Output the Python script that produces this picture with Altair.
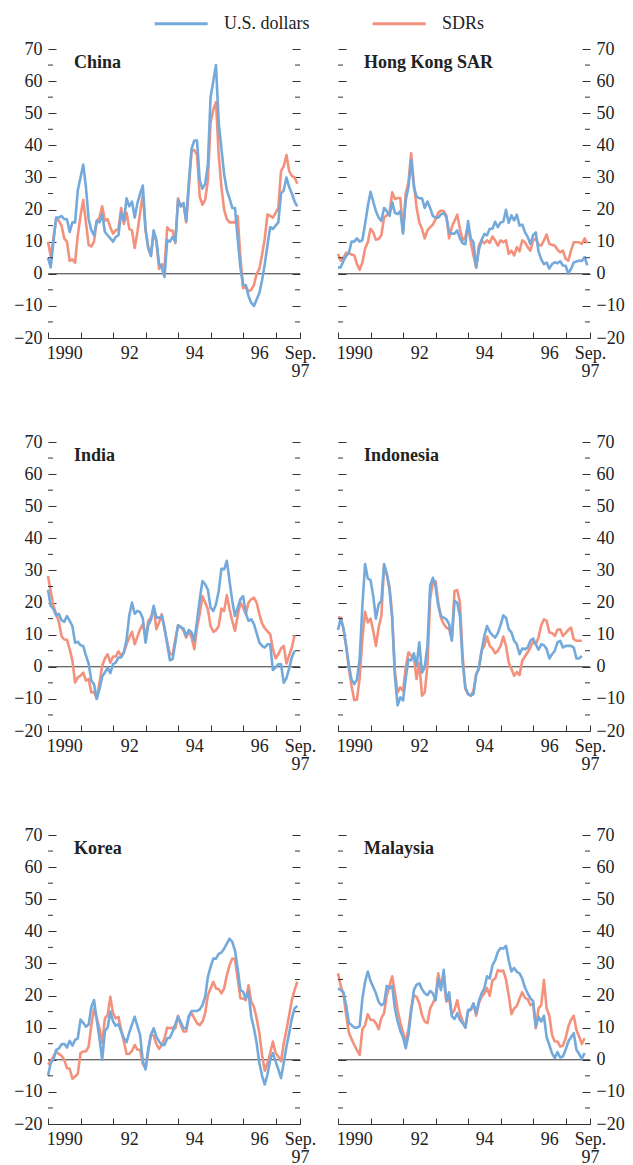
import altair as alt
import pandas as pd

# ---------------- data ----------------
START_YEAR = 1990
END_YEAR = 1997.75
SERIES = ["U.S. dollars", "SDRs"]
COLORS = ["#74a9db", "#f4917c"]
PANELS = ["China", "Hong Kong SAR", "India", "Indonesia", "Korea", "Malaysia"]
Y_MAJOR = [-20, -10, 0, 10, 20, 30, 40, 50, 60, 70]
Y_MINOR = [-15, -5, 5, 15, 25, 35, 45, 55, 65]
X_TICKS = [1990, 1991, 1992, 1993, 1994, 1995, 1996, 1997, 1997.75]
X_LABEL_POS = [1990.5, 1992.5, 1994.5, 1996.5, 1997.75]
X_LABELS = ["1990", "92", "94", "96", "Sep. 97"]

# monthly values, starting January 1990
china_usd = [5, 2, 10, 17.5, 17.5, 18, 17, 17, 13, 16,
             16, 26, 30, 34, 27, 17, 13.5, 12, 16.5, 16,
             18.5, 13, 12, 11, 10, 11.5, 12, 19, 16.5, 23.5,
             21, 22.5, 17.5, 22, 25, 27.5, 14, 8, 5.5, 13.5,
             10.5, 3, 2, -1, 10.5, 10, 11.5, 10, 23, 21,
             22, 16.5, 29, 39, 41.5, 41.5, 29, 26.5, 28, 34,
             55, 60, 65, 47, 39, 31, 26, 23.5, 20.5, 20.5,
             11, 2, -3.5, -3.5, -7, -9, -10, -8, -6, -2,
             3, 9, 14.5, 14, 15, 16, 25, 26, 30, 27,
             25, 22.5, 21]
china_sdr = [10, 5.5, 11, 17, 16.5, 15, 11, 10, 4, 4.5,
             3.5, 12, 18, 23, 16, 9, 8.5, 10, 16.5, 17.5,
             21, 16.5, 17, 14.5, 12.5, 13.5, 14, 20.5, 15.5, 19,
             14, 13.5, 8, 13, 19, 25, 13.5, 8, 6, 13,
             10, 1.5, 3, 2, 14.5, 13.5, 13.5, 9.5, 23.5, 21,
             22, 16, 27, 38.5, 38.5, 37, 24, 21.5, 23, 29,
             47, 51, 53.5, 37, 27, 20, 17, 16, 16, 16,
             18, 5, -4.5, -4, -5.5, -5, -3.5, 0, 1.5, 6,
             11, 18.5, 18, 17.5, 19, 20.5, 32, 33.5, 37, 32,
             30.5, 30, 28]
hk_usd = [2, 2, 4, 5.5, 6.5, 10, 10, 11, 10, 10.5,
          15.5, 21, 25.5, 22.5, 19.5, 17.5, 16.5, 20.5, 19.5, 18,
          22.3, 19, 18.6, 19.5, 12.5, 23, 27, 35.5, 27, 24,
          23.5, 23.5, 20.5, 22.5, 20.5, 18, 17.5, 17.5, 18.5, 18.9,
          17.6, 13, 12.5, 12.5, 13.5, 11, 9.5, 9.2, 16.4, 11,
          9.8, 2, 7.5, 10.5, 12.4, 12, 14, 14, 16.2, 14.5,
          16, 16.2, 19.9, 15.8, 18.2, 16.6, 18.4, 15, 15.3, 13,
          11.5, 9.3, 12, 12.9, 7, 4.5, 3, 3.5, 1.6, 3,
          3.6, 3.3, 3.9, 2.6, 2.5, 0, 1.5, 3.5, 3.8, 4.1,
          4, 5.2, 2.6]
hk_sdr = [6.2, 4.1, 5, 6.5, 6.5, 6, 5.7, 3, 1.2, 3.5,
          7.8, 9.8, 14, 12.9, 10.6, 10.8, 12, 17.5, 18.2, 19,
          25.4, 23.3, 23.6, 23.6, 12.9, 25, 28.5, 37.5, 28, 20.7,
          16, 14, 11, 13.5, 14.5, 15.3, 17, 19, 19.7, 19.5,
          18.1, 11, 14.5, 16.5, 18.4, 14, 10.4, 11.4, 15, 9.8,
          5.7, 1.9, 8.8, 10.4, 9.5, 10.4, 9.6, 11.6, 10.4, 8.8,
          10.4, 9.8, 10.4, 6.2, 7.2, 5.7, 8.3, 7, 10.4, 9.8,
          8.3, 7.2, 10.4, 11, 9, 8.8, 10.4, 12.2, 9.3, 9,
          8.8, 7.5, 6.7, 7.2, 4.7, 4.1, 7.2, 9.8, 9.8, 9.8,
          9.3, 11, 9.5]
india_usd = [24, 19, 18, 16, 16.5, 14.5, 14, 15.8, 14.3, 12.7,
             7.5, 7.8, 6.7, 6.5, 3.5, 1, -4.3, -5.5, -10, -7,
             -3, -1.8, -0.3, -2, 0.8, 1.3, 2.9, 2.9, 4.5, 8.5,
             16, 20, 16.5, 17.4, 17, 15, 7.5, 13, 14.6, 19,
             15.3, 15.3, 15.8, 12.2, 7, 2, 2.4, 7.6, 12.9, 12.2,
             11.9, 9.6, 11.5, 10.7, 8.1, 14.3, 21, 26.7, 25.7, 24,
             18.4, 17.4, 19.5, 23.6, 30.5, 30.3, 33, 26.7, 20.5, 15.8,
             18.4, 21, 22, 16.7, 14.3, 14.8, 13.3, 10.5, 7.5, 6.5,
             6, 7, 7, -1, -0.2, 0.8, 0.8, -5, -3.5, -0.5,
             3, 5]
india_sdr = [28.3, 23.5, 19, 16.5, 14, 9.5, 8.5, 8.4, 5.5, 2,
             -4.9, -3.3, -2.8, -1.8, -4.3, -3.8, -8, -7.8, -10, -4.9,
             0.3, 2.6, 3.9, 1.3, 3.2, 3.2, 4.8, 3.4, 4.5, 7,
             9.1, 10.9, 7, 9.4, 11.7, 13.3, 9.1, 14.3, 15.3, 18.4,
             11.7, 13.8, 16.4, 11.7, 7.6, 3.9, 3.9, 8.6, 12.9, 12.5,
             11.2, 9.1, 11.2, 9.1, 5.5, 12.2, 16.4, 22, 20, 17.9,
             12.7, 10.9, 11.4, 12.7, 18.1, 17.4, 22.3, 17.9, 14.3, 11.2,
             15.8, 20, 18.4, 16.4, 20, 21, 21.5, 20, 16.4, 13.5,
             12, 11, 10.1, 5.5, 2.6, 3.9, 5.7, 6.5, 1, 3.5,
             6, 9.8]
indonesia_usd = [11.5, 15, 12, 6.5, 0.5, -4, -5.4, -4, 2.5, 19,
                 32, 27.5, 27, 22, 15, 19.5, 20.5, 32, 29, 24,
                 15, -3, -12, -9.5, -10.5, -3.5, 2.4, 2, 4.2, 0.3,
                 7.6, -1.8, -0.2, 6.5, 25.2, 27.7, 25, 18.9, 15.8, 15.3,
                 14.8, 13.3, 8.1, 20.5, 20, 15.8, 1.3, -6.4, -8.5, -9,
                 -8.5, -2.5, -0.2, 5, 9.6, 12.7, 10.9, 9.8, 9.1, 10.5,
                 13, 16, 15.3, 11.7, 10.7, 8.1, 7, 3.9, 5.7, 5.5,
                 6, 8.1, 8.8, 7, 5.3, 7, 6.7, 5.5, 2.6, 3.9,
                 5, 7.6, 8.1, 6, 6.5, 6.5, 6.5, 6, 2.6, 2.6,
                 3.4]
indonesia_sdr = [15.3, 15.3, 12, 6.5, -0.5, -6, -10.4, -10.2, -3.5, 8.6,
                 17.1, 13.8, 15, 11.2, 6.5, 12.2, 15.8, 31.4, 28.8, 25,
                 16, -1.5, -8, -6.4, -7.5, -0.2, 4.5, 3.4, 2.9, -3.8,
                 1.3, -9, -8, 0.3, 21, 26.2, 26.7, 20, 15.3, 13.3,
                 12.2, 11.7, 8.6, 23.6, 23.9, 20, 3.4, -6.9, -8.5, -9,
                 -7.5, -2.3, -0.7, 5, 6.5, 9.4, 6.5, 5.7, 4.2, 5,
                 6.5, 9.4, 6.5, 1.3, -0.7, -2.8, -1.6, -2.6, 1.9, 3.2,
                 4.5, 6, 7.8, 7, 9.1, 12.9, 14.8, 14.3, 10.7, 10.5,
                 9.6, 11.5, 11.7, 9.6, 10.5, 11.5, 12.2, 8.6, 8.1, 8.1,
                 8.1]
korea_usd = [-5, -1, 0, 3.1, 3.5, 4.8, 5, 3.8, 5.9, 4.4,
             6.2, 6.7, 12.5, 11.5, 10.3, 11, 16.5, 18.6, 12.4, 6.7,
             0, 9, 10, 15, 12, 10.6, 11.1, 8.8, 6.7, 5.5,
             8.5, 11, 13.4, 10.5, 7.7, -0.5, -3, 3.6, 7.7, 9.8,
             7.2, 5.7, 4.6, 4.6, 6.7, 6.9, 8.8, 11.1, 13.4, 11.7,
             9.8, 9.8, 13.7, 15.2, 15.2, 15.2, 15.7, 17, 19.6, 25.8,
             28.9, 31.5, 31.5, 33, 33.4, 34.6, 36.2, 37.7, 36.7, 34.1,
             28.4, 21.7, 21.2, 19.1, 21.2, 13.4, 9.8, 5.2, -1, -5,
             -7.7, -4.5, 0, 2.1, -0.5, -3, -5.7, -1, 4.1, 8.3,
             12.9, 16, 16.8]
korea_sdr = [-1.5, -0.5, 1, 2.6, 1.8, 1.3, 0, -2.6, -2.8, -5.9,
             -5.2, -4.4, 2.1, 2.6, 2.6, 4.1, 10.8, 16, 12.9, 9.8,
             5.2, 12.9, 13.9, 19.6, 14.5, 12.9, 13.4, 9.3, 5.7, 1.8,
             1.8, 2.8, 4.6, 3.1, 3.1, -1.3, -2.6, 2.6, 8, 7.5,
             4.9, 3.4, 4.6, 6.7, 10, 9.8, 10, 9.8, 13.7, 10.8,
             8.8, 8.8, 13.4, 14.5, 12.9, 11.4, 10.8, 11.9, 14.5, 20.1,
             22.2, 24.3, 22.2, 22, 20.7, 22.2, 26.3, 29.4, 31.5, 31.3,
             25.3, 19.1, 19.1, 18.6, 23.2, 18.1, 16.5, 12.9, 8.3, 1.5,
             -3.4, -1, 2.1, 5.7, 2.1, 1, -0.5, 5.2, 9.3, 13.9,
             18.6, 21.7, 24.3]
malaysia_usd = [22.2, 21.7, 21, 17, 11.5, 10.8, 10, 10, 10.5, 19,
                24.3, 27.5, 24.5, 22.7, 20.7, 18, 17, 17.5, 23, 22.2,
                23, 16, 12, 9, 7, 3.6, 7.7, 15, 21.7, 23.4,
                23.8, 22, 20.7, 20.1, 21.4, 20.7, 18.5, 25.3, 21.7, 28,
                18.5, 21, 13.5, 12.7, 14.5, 12.4, 11.4, 10, 15.5, 15.7,
                17.6, 14.5, 18.3, 20.7, 22.2, 26, 25.3, 29.4, 31, 33.6,
                34.8, 34.6, 35.5, 31, 27.5, 28.6, 27.4, 26.9, 25.3, 22.5,
                20.7, 19.1, 18.3, 10.3, 13.4, 11.9, 13.7, 7, 4.6, 2,
                0.5, 2.4, 0.7, 1, 3.1, 5.7, 7, 8.3, 3.1, 1.8,
                0.3, 2.1]
malaysia_sdr = [26.9, 23, 20.5, 14, 8.5, 6.5, 4.6, 3, 1.5, 9.5,
                10.8, 14.2, 12.4, 12.4, 11.4, 9.5, 13, 14.5, 20, 23,
                26, 21, 15.5, 11.5, 8.5, 5.7, 9.3, 16, 20.1, 19.6,
                17.6, 13.9, 11.9, 11.4, 16, 17.6, 19.5, 26.9, 22.7, 25,
                18.1, 19.1, 14.2, 15.5, 18.5, 14.5, 12.1, 10, 15, 15.5,
                17.3, 13.7, 17.6, 19.6, 20.7, 22.4, 19.9, 24.8, 25.3, 27.9,
                27.6, 27.8, 25, 20.1, 14.2, 16, 16.8, 19.1, 21, 19.3,
                18.9, 17, 17.6, 9.8, 16, 17, 24.8, 16, 13.7, 7.7,
                5.7, 5.7, 4.1, 4.4, 6.7, 10.3, 12.5, 13.7, 9.3, 7.2,
                4.9, 6.7]

PANEL_DATA = [(china_usd, china_sdr), (hk_usd, hk_sdr), (india_usd, india_sdr),
              (indonesia_usd, indonesia_sdr), (korea_usd, korea_sdr),
              (malaysia_usd, malaysia_sdr)]

# ---------------- style ----------------
W, H = 252, 289
FONT = "Liberation Serif"
INK = "#222222"
TICK = "#333333"


def frame(values, series):
    return pd.DataFrame({
        "t": [START_YEAR + i / 12 for i in range(len(values))],
        "v": values,
        "series": series,
    })


def x_label_expr():
    expr = "''"
    for pos, lab in reversed(list(zip(X_LABEL_POS, X_LABELS))):
        parts = lab.split(" ")
        if len(parts) > 1:
            txt = "[" + ", ".join(f"'{p}'" for p in parts) + "]"
        else:
            txt = f"'{lab}'"
        expr = f"(abs(datum.value - {pos}) < 0.01 ? {txt} : {expr})"
    return expr


XS = alt.Scale(domain=[START_YEAR, END_YEAR], nice=False, zero=False)
YS = alt.Scale(domain=[-20, 70], nice=False, zero=False)

# legend swatch: a horizontal stroke drawn from the left edge of a small symbol box
LEGEND = alt.Legend(
    orient="none", legendX=105, legendY=-36, direction="horizontal", title=None,
    symbolType="M-1,0H5", symbolSize=312, symbolStrokeWidth=3,
    labelFont=FONT, labelFontSize=18, labelColor=INK, labelOffset=50,
    columnPadding=56, padding=0,
)
COLOR = alt.Color("series:N", scale=alt.Scale(domain=SERIES, range=COLORS), legend=LEGEND)


def panel(name, usd, sdr, side):
    df = pd.concat([frame(usd, SERIES[0]), frame(sdr, SERIES[1])], ignore_index=True)
    base = alt.Chart(df)
    left_labels = side == "left"

    zero = alt.Chart(pd.DataFrame({"v": [0]})).mark_rule(color="#333333", strokeWidth=1).encode(
        y=alt.Y("v:Q", scale=YS, axis=None)
    )

    sdr_line = base.transform_filter(alt.datum.series == SERIES[1]).mark_line(
        strokeWidth=2.6, strokeJoin="round"
    ).encode(
        x=alt.X("t:Q", scale=XS, axis=alt.Axis(
            orient="top", offset=-H, values=X_TICKS, labels=False, domain=False,
            ticks=True, tickSize=6, grid=False, title=None)),
        y=alt.Y("v:Q", scale=YS, axis=alt.Axis(
            orient="right", offset=-8, values=Y_MAJOR, labels=not left_labels,
            tickSize=8, domain=False, grid=False, title=None, labelPadding=6)),
        color=COLOR,
    )

    usd_line = base.transform_filter(alt.datum.series == SERIES[0]).mark_line(
        strokeWidth=2.6, strokeJoin="round"
    ).encode(
        x=alt.X("t:Q", scale=XS, axis=alt.Axis(
            orient="bottom", values=X_LABEL_POS, labelExpr=x_label_expr(),
            ticks=False, tickSize=0, domain=True, domainColor=TICK, grid=False,
            title=None, labelPadding=6, labelFlush=False, labelOverlap=False,
            labelBound=False, labelLineHeight=18)),
        y=alt.Y("v:Q", scale=YS, axis=alt.Axis(
            orient="left", offset=-8, values=Y_MAJOR, labels=left_labels,
            tickSize=8, domain=False, grid=False, title=None, labelPadding=6)),
        color=COLOR,
    )

    minor = alt.Chart(pd.DataFrame({"v": Y_MINOR}))
    minor_l = minor.mark_rule(color=TICK, strokeWidth=1).encode(
        y=alt.Y("v:Q", scale=YS, axis=None), x=alt.value(0), x2=alt.value(5))
    minor_r = minor.mark_rule(color=TICK, strokeWidth=1).encode(
        y=alt.Y("v:Q", scale=YS, axis=None), x=alt.value(W - 5), x2=alt.value(W))

    title = alt.Chart(pd.DataFrame({"name": [name]})).mark_text(
        align="left", baseline="alphabetic", font=FONT, fontSize=18,
        fontWeight="bold", color=INK,
    ).encode(x=alt.value(26), y=alt.value(19), text="name:N")

    return alt.layer(zero, sdr_line, usd_line, minor_l, minor_r, title).resolve_axis(
        x="independent", y="independent"
    ).properties(width=W, height=H)


panels = [panel(n, u, s, "left" if i % 2 == 0 else "right")
          for i, (n, (u, s)) in enumerate(zip(PANELS, PANEL_DATA))]

chart = alt.concat(
    *panels, columns=2, spacing={"row": 104, "column": 38}, bounds="flush"
).resolve_scale(
    color="shared"
).properties(
    padding={"left": 5, "top": 5, "right": 0, "bottom": 0}
).configure_view(stroke=None).configure_axis(
    labelFont=FONT, labelFontSize=18, labelColor=INK,
    tickColor=TICK, tickWidth=1, domainColor=TICK, domainWidth=1,
)

chart.save("out.html", embed_options={"renderer": "svg", "actions": False})
